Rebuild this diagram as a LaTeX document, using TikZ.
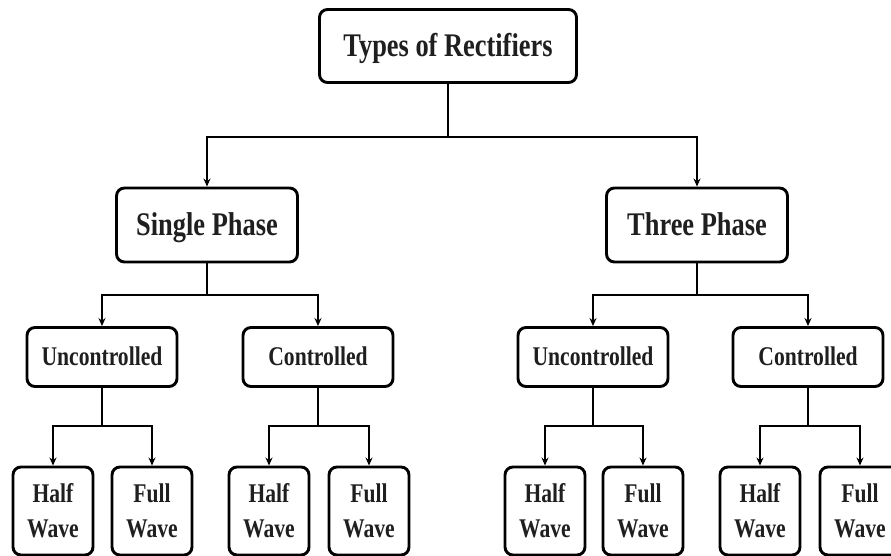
\documentclass[tikz,border=0pt]{standalone}
\usepackage{fontspec}
\setmainfont{Liberation Serif}[FakeStretch=0.8]
\usetikzlibrary{arrows.meta}
\begin{document}
\begin{tikzpicture}[x=1pt,y=1pt,
  box/.style={draw=black, line width=2.9pt, rounded corners=8pt, fill=white, inner sep=0pt, text=black!88, font=\bfseries\fontsize{27}{35}\selectfont},
  midbox/.style={box, text height=17.8pt, text depth=0pt, minimum width=150pt, minimum height=59pt},
  bigbox/.style={box, text height=21.8pt, text depth=0pt, font=\bfseries\fontsize{33}{36}\selectfont},
  leafbox/.style={box, align=center, minimum width=80pt, minimum height=88pt},
  link/.style={draw=black, line width=2.9pt},
  arr/.style={link, -{Stealth[length=8pt,width=7pt]}}
]
\useasboundingbox (0,0) rectangle (891,-556);
\fill[white] (0,0) rectangle (891,-556);

\node[bigbox, minimum width=257pt, minimum height=73pt] (top) at (448,-46) {Types of Rectifiers};
\node[bigbox, minimum width=181pt, minimum height=74pt] (sp) at (207,-225) {Single Phase};
\node[bigbox, minimum width=181pt, minimum height=74pt] (tp) at (697,-225) {Three Phase};

\node[midbox] (u1) at (102,-357) {Uncontrolled};
\node[midbox] (c1) at (318,-357) {Controlled};
\node[midbox] (u2) at (593,-357) {Uncontrolled};
\node[midbox] (c2) at (808,-357) {Controlled};

\node[leafbox] (u1h) at (53,-511) {Half\\Wave};
\node[leafbox] (u1f) at (152,-511) {Full\\Wave};
\node[leafbox] (c1h) at (269,-511) {Half\\Wave};
\node[leafbox] (c1f) at (369,-511) {Full\\Wave};
\node[leafbox] (u2h) at (545,-511) {Half\\Wave};
\node[leafbox] (u2f) at (643,-511) {Full\\Wave};
\node[leafbox] (c2h) at (760,-511) {Half\\Wave};
\node[leafbox] (c2f) at (860,-511) {Full\\Wave};

\coordinate (j0) at (448,-137);
\coordinate (j1) at (207,-295);
\coordinate (j2) at (697,-295);
\coordinate (ju1) at (102,-426);
\coordinate (jc1) at (318,-426);
\coordinate (ju2) at (593,-426);
\coordinate (jc2) at (808,-426);

\draw[link] (top) -- (j0);
\draw[arr] (j0) -| (sp);
\draw[arr] (j0) -| (tp);

\draw[link] (sp) -- (j1);
\draw[arr] (j1) -| (u1);
\draw[arr] (j1) -| (c1);
\draw[link] (tp) -- (j2);
\draw[arr] (j2) -| (u2);
\draw[arr] (j2) -| (c2);

\draw[link] (u1) -- (ju1);
\draw[arr] (ju1) -| (u1h);
\draw[arr] (ju1) -| (u1f);
\draw[link] (c1) -- (jc1);
\draw[arr] (jc1) -| (c1h);
\draw[arr] (jc1) -| (c1f);
\draw[link] (u2) -- (ju2);
\draw[arr] (ju2) -| (u2h);
\draw[arr] (ju2) -| (u2f);
\draw[link] (c2) -- (jc2);
\draw[arr] (jc2) -| (c2h);
\draw[arr] (jc2) -| (c2f);
\end{tikzpicture}
\end{document}
